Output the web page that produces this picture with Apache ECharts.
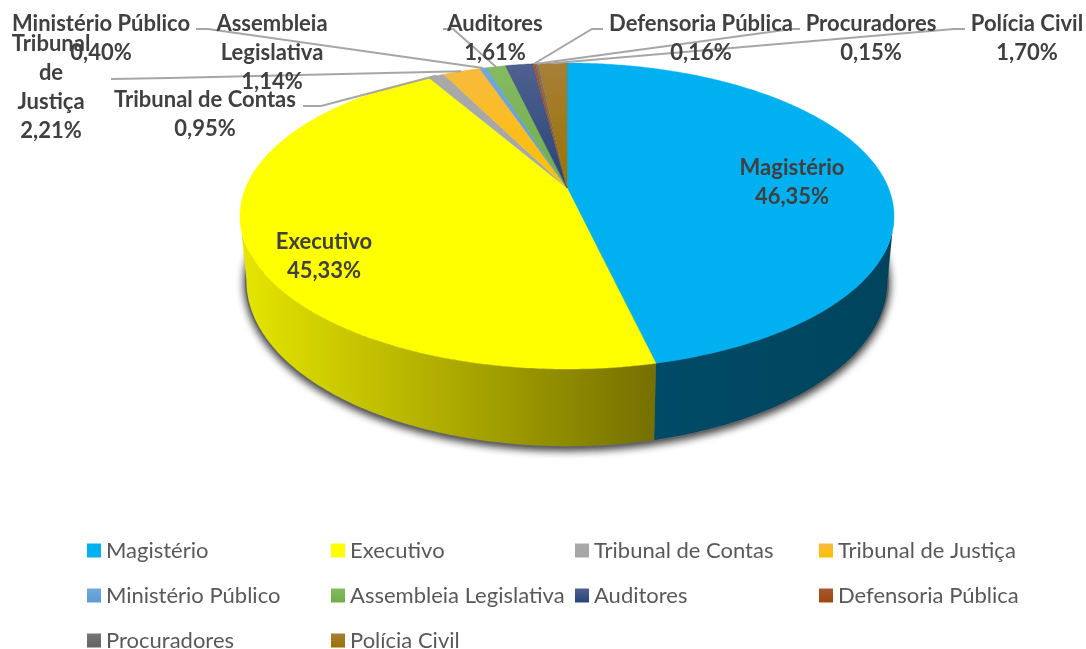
<!DOCTYPE html>
<html>
<head>
<meta charset="utf-8">
<style>html,body{margin:0;padding:0;background:#fff}#chart{width:1086px;height:649px}</style>
<script src="https://cdn.jsdelivr.net/npm/echarts@6/dist/echarts.min.js"></script>
</head>
<body>
<div id="chart"></div>
<script>
var categories = ['Magistério', 'Executivo', 'Tribunal de Contas', 'Tribunal de Justiça', 'Ministério Público',
    'Assembleia Legislativa', 'Auditores', 'Defensoria Pública', 'Procuradores', 'Polícia Civil']
var values = [46.35, 45.33, 0.95, 2.21, 0.40, 1.14, 1.61, 0.16, 0.15, 1.70]
var topColors = ['#00b0f0', '#ffff00', '#a9a9a9', '#f8ba3e', '#72a9dc', '#86ba62', '#4f6190', '#a8562f', '#767676', '#a87f38']
var lowColors = ['#00b0f0', '#ffff00', '#a5a5a5', '#ffc000', '#5b9bd5', '#70ad47', '#264478', '#9e480e', '#636363', '#997300']

// label text as drawn in the picture, with its own line breaks
var labelNames = ['Magistério', 'Executivo', 'Tribunal de Contas', 'Tribunal\nde\nJustiça', 'Ministério Público',
    'Assembleia\nLegislativa', 'Auditores', 'Defensoria Pública', 'Procuradores', 'Polícia Civil']

// layout only: label centre and first line y, leader line start and elbow
var labelPos = [[792, 168], [324, 242], [205, 100], [51, 44], [101, 24], [272, 24], [495, 24], [701, 24], [871, 24], [1027, 24]]
var leaders = [null, null, [[303, 106], [321, 106]], [[111, 79], [170, 78]], [[196, 29], [208, 29]],
    [[443, 29], [453, 29]], null, [[603, 29], [592, 29]], [[800, 29], [792, 29]], [[965, 29], [954, 29]]]

// pie projection, a tilted disc seen in perspective
var cx = 567, cy = 188, radX = 321.5, radY = 147.9, persp = 0.183, depth = 63, baseScale = 0.98
var LABEL_FONT = 'bold 22px Lato, "Open Sans", sans-serif'

var total = values.reduce(function (a, b) { return a + b }, 0)
var starts = []
values.reduce(function (acc, v, i) { starts[i] = acc; return acc + v }, 0)

// the wall is only seen between the two points where the top rim is widest
var wallFrom = Math.acos(-persp), wallTo = Math.PI * 2 - wallFrom

function angleOf(v) { return v / total * Math.PI * 2 }
function rim(a, lower) {
    var x = Math.sin(a), y = -Math.cos(a), w = 1 - persp * y
    var px = radX * x / w, py = radY * y / w
    if (lower) return [cx + px * baseScale, cy + py + depth / w]
    return [cx + px, cy + py]
}
function arc(a0, a1, lower) {
    var n = Math.max(2, Math.ceil((a1 - a0) / 0.01)), pts = []
    for (var i = 0; i <= n; i++) pts.push(rim(a0 + (a1 - a0) * i / n, lower))
    return pts
}
function gradient(c0, c1, horizontal) {
    return new echarts.graphic.LinearGradient(0, 0, horizontal ? 1 : 0, horizontal ? 0 : 1, [
        { offset: 0, color: c0 }, { offset: 1, color: c1 }
    ])
}
var wallFills = [gradient('#004b68', '#00445c', true), gradient('#e6e600', '#757000', true)]

function renderSlice(params, api) {
    var i = params.seriesIndex - 1
    var a0 = angleOf(starts[i]), a1 = angleOf(starts[i] + api.value(0)), mid = (a0 + a1) / 2
    var upper = arc(a0, a1, false)
    var children = []
    if (wallFills[i]) {
        var w0 = Math.max(a0, wallFrom), w1 = Math.min(a1, wallTo)
        children.push({
            type: 'polygon', z2: 1, shape: { points: arc(w0, w1, false).concat(arc(w0, w1, true).reverse()) },
            style: { fill: wallFills[i] }
        })
    }
    children.push({
        type: 'polygon', z2: 2, shape: { points: [[cx, cy]].concat(upper) },
        style: { fill: gradient(topColors[i], lowColors[i]), stroke: lowColors[i], lineWidth: 0.4 }
    })
    if (leaders[i]) {
        children.push({
            type: 'polyline', z2: 3, shape: { points: leaders[i].concat([rim(mid, false)]) },
            style: { fill: null, stroke: '#a6a6a6', lineWidth: 2 }
        })
    }
    children.push({
        type: 'text', z2: 4,
        style: {
            text: labelNames[i] + '\n' + api.value(0).toFixed(2).replace('.', ',') + '%',
            x: labelPos[i][0], y: labelPos[i][1] - 14.5,
            align: 'center', verticalAlign: 'top', lineHeight: 29,
            font: LABEL_FONT, fill: '#404040'
        }
    })
    return { type: 'group', children: children }
}

// lower rim only, it is there to cast the soft shadow under the pie
function renderBase() {
    return {
        type: 'polygon', z2: 0, shape: { points: arc(wallFrom - 0.2, wallTo + 0.2, true) },
        style: { fill: '#555', stroke: '#666', lineWidth: 3, shadowBlur: 9, shadowColor: 'rgba(0,0,0,0.85)', shadowOffsetY: 2 }
    }
}

var series = [{ type: 'custom', name: 'base', coordinateSystem: 'none', silent: true, data: [total], renderItem: renderBase }]
categories.forEach(function (name, i) {
    series.push({
        type: 'custom', name: name, coordinateSystem: 'none', silent: true,
        itemStyle: { color: gradient(topColors[i], lowColors[i]) },
        data: [values[i]], renderItem: renderSlice
    })
})

function legendColumn(left, names) {
    return {
        orient: 'vertical', left: left, top: 538, height: 130, padding: 0,
        itemWidth: 14, itemHeight: 14, itemGap: 20,
        icon: 'rect', selectedMode: false, data: names,
        textStyle: { fontFamily: 'Lato, "Open Sans", sans-serif', fontSize: 22, color: '#595959', lineHeight: 25 }
    }
}

var option = {
    backgroundColor: '#fff',
    animation: false,
    legend: [
        legendColumn(87, [categories[0], categories[4], categories[8]]),
        legendColumn(331, [categories[1], categories[5], categories[9]]),
        legendColumn(575, [categories[2], categories[6]]),
        legendColumn(819, [categories[3], categories[7]])
    ],
    series: series
}

var chart = echarts.init(document.getElementById('chart'))
chart.setOption(option)
</script>
</body>
</html>
